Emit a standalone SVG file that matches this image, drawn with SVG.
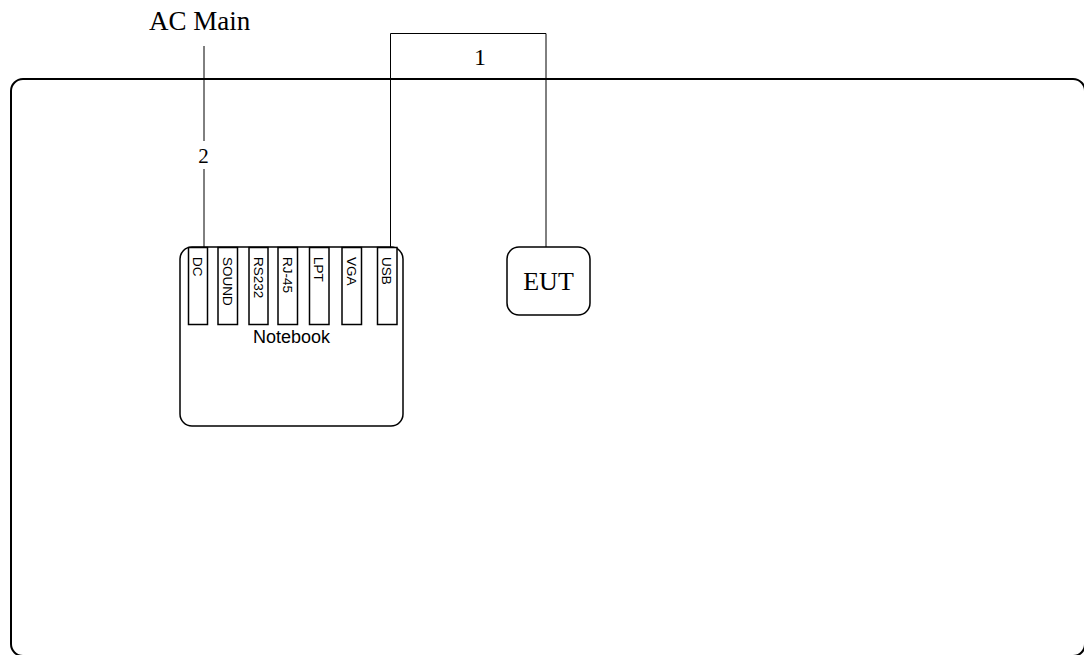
<svg xmlns="http://www.w3.org/2000/svg" width="1084" height="655" viewBox="0 0 1084 655">
<style>
.frame{fill:none;stroke:#000;stroke-width:2}
.box{fill:#fff;stroke:#000;stroke-width:1.5}
.port{fill:#fff;stroke:#000;stroke-width:1.5}
.wire{fill:none;stroke:#000;stroke-width:1}
.serif{font-family:"Liberation Serif","Times New Roman",serif;fill:#000}
.sans{font-family:"Liberation Sans",Arial,sans-serif;fill:#000}
.pl{font-family:"Liberation Sans",Arial,sans-serif;font-size:13.5px;fill:#000}
</style>
<rect width="1084" height="655" fill="#fff"/>
<g id="table">
<rect class="frame" x="11" y="79" width="1074" height="577" rx="12" ry="12"/>
</g>
<g id="connectors">
<path class="wire" d="M204 46 V141 M204 169 V247"/>
<path class="wire" d="M390.5 247 V33.5 H546 V247"/>
<text class="serif" x="203.5" y="163" font-size="21" text-anchor="middle">2</text>
<text class="serif" x="480" y="65" font-size="24" text-anchor="middle">1</text>
</g>
<g id="ac-main">
<text class="serif" x="149" y="30" font-size="27">AC Main</text>
</g>
<g id="notebook">
<rect class="box" x="180" y="247" width="223" height="179" rx="12" ry="12"/>
<rect class="port" x="188.5" y="247.5" width="19" height="77"/>
<rect class="port" x="218" y="247.5" width="19.5" height="77"/>
<rect class="port" x="249" y="247.5" width="19" height="77"/>
<rect class="port" x="278" y="247.5" width="19.5" height="77"/>
<rect class="port" x="309.5" y="247.5" width="19.5" height="77"/>
<rect class="port" x="342" y="247.5" width="19.5" height="77"/>
<rect class="port" x="377.5" y="247.5" width="19.5" height="77"/>
<text class="pl" transform="translate(193,257) rotate(90)">DC</text>
<text class="pl" transform="translate(222.5,257) rotate(90)">SOUND</text>
<text class="pl" transform="translate(253.5,257) rotate(90)">RS232</text>
<text class="pl" transform="translate(282.5,257) rotate(90)">RJ-45</text>
<text class="pl" transform="translate(314,257) rotate(90)">LPT</text>
<text class="pl" transform="translate(346.5,257) rotate(90)">VGA</text>
<text class="pl" transform="translate(382,257) rotate(90)">USB</text>
<text class="sans" x="291.5" y="343" font-size="18" text-anchor="middle">Notebook</text>
</g>
<g id="eut">
<rect class="box" x="507" y="247" width="83" height="68" rx="12" ry="12"/>
<text class="serif" x="548.5" y="290" font-size="26" text-anchor="middle">EUT</text>
</g>
</svg>
